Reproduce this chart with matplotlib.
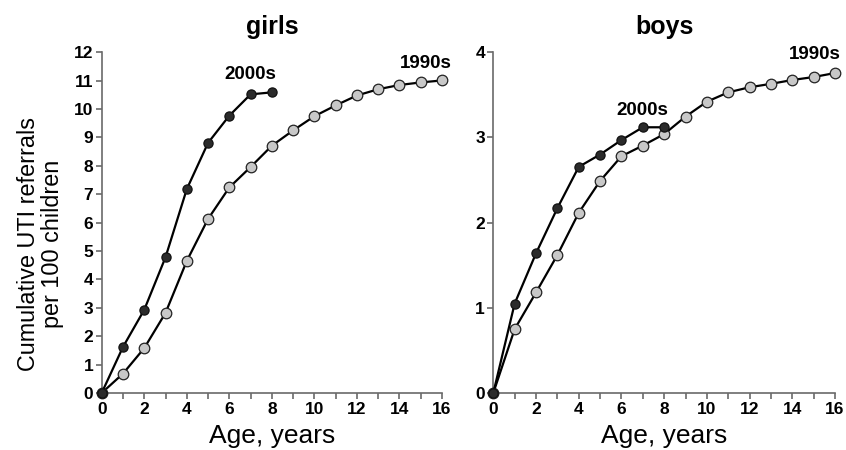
import matplotlib
matplotlib.use("Agg")
import matplotlib.pyplot as plt
from matplotlib.ticker import MultipleLocator

plt.rcParams['font.family'] = ['Liberation Sans', 'DejaVu Sans']

ages_1990s = list(range(0, 17))
ages_2000s = list(range(0, 9))

girls_1990s = [0, 0.68, 1.58, 2.82, 4.65, 6.13, 7.24, 7.96, 8.71, 9.25, 9.75,
               10.13, 10.48, 10.70, 10.85, 10.94, 11.01]
girls_2000s = [0, 1.62, 2.93, 4.78, 7.18, 8.81, 9.77, 10.52, 10.59]

boys_1990s = [0, 0.75, 1.18, 1.62, 2.115, 2.49, 2.78, 2.905, 3.04, 3.245, 3.42,
              3.53, 3.59, 3.63, 3.675, 3.71, 3.757]
boys_2000s = [0, 1.05, 1.64, 2.17, 2.655, 2.80, 2.97, 3.12, 3.12]

panels = [
    dict(title="girls", y90=girls_1990s, y00=girls_2000s, ymax=12,
         lab00=(7.0, 11.23), lab90=(15.25, 11.62)),
    dict(title="boys", y90=boys_1990s, y00=boys_2000s, ymax=4,
         lab00=(7.0, 3.32), lab90=(15.06, 3.97)),
]

fig = plt.figure(figsize=(8.46, 4.5), dpi=100)
rects = [[0.1202, 0.1267, 0.4023, 0.757], [0.5831, 0.1267, 0.4039, 0.757]]
spine_col = "#6a6a6a"

for rect, p in zip(rects, panels):
    ax = fig.add_axes(rect)
    ax.plot(ages_1990s, p["y90"], color="black", lw=1.6, marker="o",
            markersize=7.6, markerfacecolor="#c8c8c8", markeredgecolor="#222222",
            markeredgewidth=0.9, clip_on=False, zorder=3)
    ax.plot(ages_2000s, p["y00"], color="black", lw=1.6, marker="o",
            markersize=6.6, markerfacecolor="#2b2b2b", markeredgecolor="#111111",
            markeredgewidth=0.9, clip_on=False, zorder=4)
    ax.set_xlim(0, 16)
    ax.set_ylim(0, p["ymax"])
    ax.xaxis.set_major_locator(MultipleLocator(2))
    ax.xaxis.set_minor_locator(MultipleLocator(1))
    ax.yaxis.set_major_locator(MultipleLocator(1))
    for s in ["top", "right"]:
        ax.spines[s].set_visible(False)
    for s in ["left", "bottom"]:
        ax.spines[s].set_color(spine_col)
        ax.spines[s].set_linewidth(1.2)
    ax.tick_params(axis="both", which="major", direction="out", length=4.5,
                   width=1.2, color=spine_col, labelsize=12.5)
    ax.tick_params(axis="x", which="major", pad=2)
    ax.tick_params(axis="y", which="major", pad=1.5)
    ax.tick_params(axis="x", which="minor", direction="out", length=4.5,
                   width=1.2, color=spine_col)
    for lbl in ax.get_xticklabels() + ax.get_yticklabels():
        lbl.set_fontweight("bold")
    ax.set_xlabel("Age, years", fontsize=19, labelpad=5)
    ax.set_title(p["title"], fontsize=18, fontweight="bold", pad=13)
    ax.text(*p["lab00"], "2000s", ha="center", va="center", fontsize=13.5,
            fontweight="bold")
    ax.text(*p["lab90"], "1990s", ha="center", va="center", fontsize=13.5,
            fontweight="bold")
    if p["title"] == "girls":
        ax.set_ylabel("Cumulative UTI referrals\nper 100 children", fontsize=16.8,
                      linespacing=1.05)
        ax.yaxis.set_label_coords(-0.112, 0.437)

fig.savefig("out.png", dpi=100)
